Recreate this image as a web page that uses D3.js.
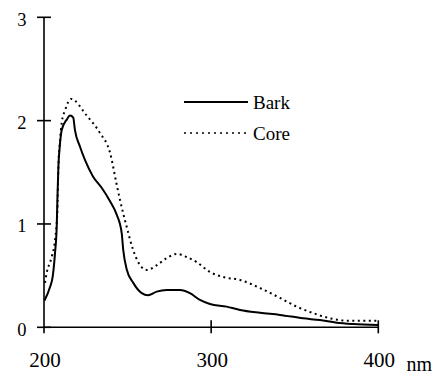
<!DOCTYPE html>
<html>
<head>
<meta charset="utf-8">
<script src="https://cdn.jsdelivr.net/npm/d3@7"></script>
<style>
  html, body { margin: 0; padding: 0; background: #fff; }
  svg { display: block; }
</style>
</head>
<body>
<svg id="chart" width="434" height="374"></svg>
<script>
// Absorption spectra of bark and core extracts (wavelength in nm)
const barkNm  = [200.3, 203.6, 205.2, 206.6, 207.6, 208.0, 208.6, 209.6, 210.6, 213.6, 215.6, 217.5, 218.5, 221.5, 224.5, 229.3, 234.5, 239.5, 243.5, 246.5, 247.4, 249.5, 253.4, 258.5, 262.2, 267.4, 273.4, 281.4, 287.3, 293.3, 299.3, 309.3, 317.3, 329.2, 341.2, 354.9, 365.1, 375.1, 384.9, 399.8];
const barkAbs = [0.26, 0.39, 0.49, 0.72, 0.97, 1.23, 1.55, 1.78, 1.91, 2.01, 2.05, 2.03, 1.91, 1.75, 1.62, 1.46, 1.35, 1.22, 1.09, 0.91, 0.75, 0.56, 0.43, 0.33, 0.31, 0.345, 0.36, 0.36, 0.33, 0.265, 0.225, 0.20, 0.167, 0.14, 0.12, 0.087, 0.07, 0.045, 0.032, 0.022];

const coreNm  = [200.6, 201.6, 204.6, 206.6, 208.0, 208.6, 209.6, 210.6, 212.6, 216.2, 225.5, 233.5, 239.5, 243.5, 245.5, 249.5, 253.3, 258.5, 261.4, 267.4, 273.4, 279.4, 285.4, 291.4, 299.3, 307.1, 317.3, 329.2, 341.2, 351.2, 360.9, 371.1, 381.1, 399.8];
const coreAbs = [0.43, 0.525, 0.68, 0.845, 1.135, 1.55, 1.81, 1.98, 2.10, 2.21, 2.05, 1.88, 1.69, 1.38, 1.23, 0.97, 0.75, 0.58, 0.555, 0.60, 0.67, 0.71, 0.68, 0.63, 0.535, 0.487, 0.458, 0.38, 0.284, 0.20, 0.138, 0.087, 0.064, 0.064];

const xTicks = [200, 300, 400];
const yTicks = [0, 1, 2, 3];
const seriesNames = ["Bark", "Core"];
const serif = "Liberation Serif";

const svg = d3.select("#chart");
const x = d3.scaleLinear().domain([200, 400]).range([44, 378.3]);
const y = d3.scaleLinear().domain([0, 3]).range([327.3, 17.3]);

// Axes: ticks cross the axis line on both sides
const yAxis = svg.append("g");
yAxis.append("line")
  .attr("x1", x(200)).attr("x2", x(200))
  .attr("y1", y(3)).attr("y2", y(0) + 6)
  .attr("stroke", "#000").attr("stroke-width", 1.6);
yAxis.selectAll("line.tick").data(yTicks).join("line")
  .attr("class", "tick")
  .attr("x1", x(200) - 7).attr("x2", x(200) + 7)
  .attr("y1", d => y(d)).attr("y2", d => y(d))
  .attr("stroke", "#000").attr("stroke-width", 1.6);
yAxis.selectAll("text").data(yTicks).join("text")
  .attr("x", 26.5).attr("y", d => y(d) + 8.5)
  .attr("text-anchor", "end")
  .attr("font-family", serif)
  .attr("font-size", 18.5)
  .text(d => d);

const xAxis = svg.append("g");
xAxis.append("line")
  .attr("x1", x(200)).attr("x2", x(400))
  .attr("y1", y(0)).attr("y2", y(0))
  .attr("stroke", "#000").attr("stroke-width", 1.6);
xAxis.selectAll("line.tick").data(xTicks.slice(1)).join("line")
  .attr("class", "tick")
  .attr("x1", d => x(d)).attr("x2", d => x(d))
  .attr("y1", y(0) - 7).attr("y2", y(0) + 6)
  .attr("stroke", "#000").attr("stroke-width", 1.6);
xAxis.selectAll("text").data(xTicks).join("text")
  .attr("x", d => x(d) + 1).attr("y", 366.5)
  .attr("text-anchor", "middle")
  .attr("font-family", serif)
  .attr("font-size", 21)
  .text(d => d);
svg.append("text")
  .attr("x", 406.5).attr("y", 371)
  .attr("font-family", serif)
  .attr("font-size", 20)
  .text("nm");

// Spectra
const line = d3.line()
  .x(d => x(d[0])).y(d => y(d[1]))
  .curve(d3.curveMonotoneX);

svg.append("path")
  .datum(d3.zip(coreNm, coreAbs))
  .attr("d", line)
  .attr("fill", "none").attr("stroke", "#000")
  .attr("stroke-width", 2).attr("stroke-dasharray", "2,3.5");

svg.append("path")
  .datum(d3.zip(barkNm, barkAbs))
  .attr("d", line)
  .attr("fill", "none").attr("stroke", "#000")
  .attr("stroke-width", 2);

// Legend
const legend = svg.append("g");
const legendY = [102, 133];
legend.selectAll("line").data(seriesNames).join("line")
  .attr("x1", 184).attr("x2", 248)
  .attr("y1", (d, i) => legendY[i]).attr("y2", (d, i) => legendY[i])
  .attr("stroke", "#000")
  .attr("stroke-width", (d, i) => i === 0 ? 1.8 : 1.5)
  .attr("stroke-dasharray", (d, i) => i === 0 ? null : "2,4");
legend.selectAll("text").data(seriesNames).join("text")
  .attr("x", 253).attr("y", (d, i) => legendY[i] + 6.5)
  .attr("font-family", serif)
  .attr("font-size", 19)
  .text(d => d);
</script>
</body>
</html>
